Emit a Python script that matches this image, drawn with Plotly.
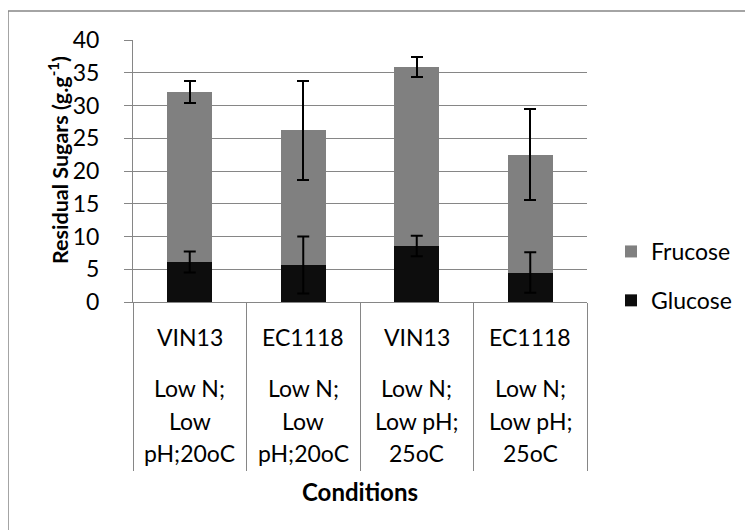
import plotly.graph_objects as go

# ---- data ----
strains = ["VIN13", "EC1118", "VIN13", "EC1118"]
conditions = ["Low N;<br>Low<br>pH;20oC", "Low N;<br>Low<br>pH;20oC",
              "Low N;<br>Low pH;<br>25oC", "Low N;<br>Low pH;<br>25oC"]
glucose = [6.1, 5.65, 8.55, 4.5]
glucose_err = [1.6, 4.35, 1.55, 3.1]
frucose = [26.0, 20.55, 27.35, 18.0]
frucose_err = [1.65, 7.5, 1.55, 6.9]
y_ticks = [0, 5, 10, 15, 20, 25, 30, 35, 40]

FONT = "Lato"
GRID = "#868686"
xpos = list(range(len(strains)))

# page has an 8px body margin: figure drawn at (8, 8)
OFF = 8
W, H = 753 - OFF, 530 - OFF
# plot area in page pixels: x 133..587, y 40..302
PL, PR, PT, PB = 133, 587, 40, 302
L, T = PL - OFF, PT - OFF
pw, ph = PR - PL, PB - PT
R, B = W - L - pw, H - T - ph


def py(y):  # page pixel y -> paper y
    return (PB - y) / ph


def px(x):  # page pixel x -> paper x
    return (x - PL) / pw


fig = go.Figure()
fig.add_trace(go.Bar(
    x=xpos, y=glucose, name="Glucose", width=0.4,
    marker=dict(color="#0d0d0d", line=dict(width=0)),
    legendrank=2, legendgroup="g",
))
fig.add_trace(go.Bar(
    x=xpos, y=frucose, name="Frucose", width=0.4,
    marker=dict(color="#808080", line=dict(width=0)),
    error_y=dict(type="data", array=frucose_err, color="black", thickness=2, width=6),
    legendrank=1, legendgroup="f",
))
# glucose error bars drawn on top of the stacked bars
fig.add_trace(go.Scatter(
    x=xpos, y=glucose, mode="markers", marker=dict(opacity=0, size=1),
    error_y=dict(type="data", array=glucose_err, color="black", thickness=2, width=6),
    showlegend=False, hoverinfo="skip", legendgroup="g",
))

annotations = []
for i, (s, c) in enumerate(zip(strains, conditions)):
    annotations.append(dict(x=i, y=py(337), xref="x", yref="paper", text=s,
                            showarrow=False, yanchor="middle",
                            font=dict(family=FONT, size=23, color="black")))
    for j, line in enumerate(c.split("<br>")):
        annotations.append(dict(x=i, y=py(388 + j * 32.5), xref="x", yref="paper",
                                text=line, showarrow=False, yanchor="middle",
                                font=dict(family=FONT, size=23, color="black")))
annotations.append(dict(x=0.5, y=py(491), xref="paper", yref="paper",
                        text="<b>Conditions</b>", showarrow=False, yanchor="middle",
                        font=dict(family=FONT, size=24, color="black")))
annotations.append(dict(x=px(58), y=py(160), xref="paper", yref="paper",
                        text="<b>Residual Sugars (g.g<sup>-1</sup>)</b>", textangle=-90,
                        showarrow=False, xanchor="center", yanchor="middle",
                        font=dict(family=FONT, size=21.5, color="black")))

fig.update_layout(
    width=W, height=H,
    margin=dict(l=L, r=R, t=T, b=B),
    paper_bgcolor="white", plot_bgcolor="white",
    barmode="stack",
    font=dict(family=FONT, size=23, color="black"),
    legend=dict(x=px(611), y=py(230), xanchor="left", yanchor="top",
                traceorder="grouped", tracegroupgap=16,
                font=dict(family=FONT, size=23, color="black"),
                bgcolor="rgba(0,0,0,0)"),
    annotations=annotations,
    shapes=[dict(type="rect", xref="paper", yref="paper",
                 x0=px(8), x1=px(800), y0=py(600), y1=py(11),
                 line=dict(color=GRID, width=1.5), layer="below")],
)
fig.update_yaxes(
    range=[0, 40], tickvals=y_ticks, showgrid=True, gridcolor=GRID, gridwidth=1,
    showline=True, linecolor=GRID, linewidth=1,
    ticks="outside", ticklen=8, tickcolor=GRID, tickwidth=1,
    ticklabelstandoff=20,
    tickfont=dict(family=FONT, size=23, color="black"),
    zeroline=False,
)
fig.update_xaxes(
    range=[-0.5, 3.5], tickvals=[-0.5, 0.5, 1.5, 2.5, 3.5],
    showticklabels=False, ticks="outside", ticklen=168, tickcolor=GRID, tickwidth=1,
    showline=True, linecolor=GRID, linewidth=1, showgrid=False, zeroline=False,
)

fig.write_html("out.html")
